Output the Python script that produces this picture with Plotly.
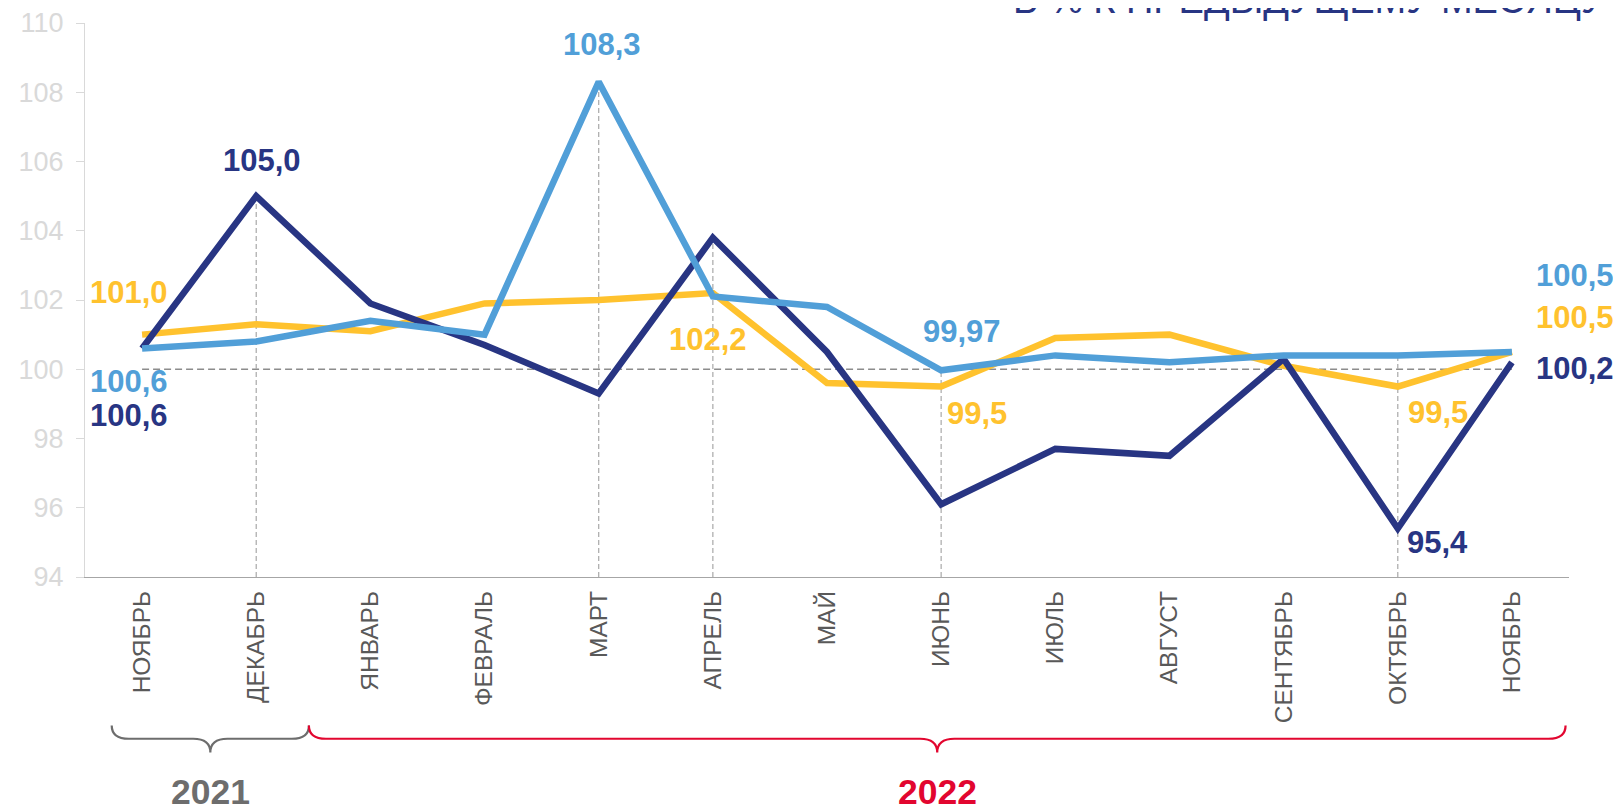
import plotly.graph_objects as go

# ---------------- data ----------------
months = ["НОЯБРЬ", "ДЕКАБРЬ", "ЯНВАРЬ", "ФЕВРАЛЬ", "МАРТ", "АПРЕЛЬ", "МАЙ",
          "ИЮНЬ", "ИЮЛЬ", "АВГУСТ", "СЕНТЯБРЬ", "ОКТЯБРЬ", "НОЯБРЬ"]
navy_vals = [100.6, 105.0, 101.9, 100.7, 99.3, 103.8, 100.5, 96.1, 97.7, 97.5, 100.3, 95.4, 100.2]
yellow_vals = [101.0, 101.3, 101.1, 101.9, 102.0, 102.2, 99.6, 99.5, 100.9, 101.0, 100.1, 99.5, 100.5]
blue_vals = [100.6, 100.8, 101.4, 101.0, 108.3, 102.1, 101.8, 99.97, 100.4, 100.2, 100.4, 100.4, 100.5]
years = ["2021", "2022"]
year_first_idx = [0, 2]
year_last_idx = [1, 12]
y_ticks = [94, 96, 98, 100, 102, 104, 106, 108, 110]
base_value = 100
guide_idx = [1, 4, 5, 7, 11]
title_text = "В % К ПРЕДЫДУЩЕМУ МЕСЯЦУ"

# ---------------- style ----------------
NAVY = "#283583"
YELLOW = "#FFC22E"
BLUE = "#519FD8"
GRAY_TXT = "#595959"
YEAR_COLORS = ["#6D6D6D", "#E2062F"]
FONT = "Liberation Sans, Arial, sans-serif"

series = {"navy": (navy_vals, NAVY), "yellow": (yellow_vals, YELLOW), "blue": (blue_vals, BLUE)}

x = list(range(len(months)))

fig = go.Figure()
for key in ["yellow", "navy", "blue"]:
    vals, col = series[key]
    fig.add_trace(go.Scatter(x=x, y=vals, mode="lines",
                             line=dict(color=col, width=6.5),
                             showlegend=False, hoverinfo="skip"))

# horizontal reference at 100
fig.add_shape(type="line", xref="x", yref="y", x0=x[0], x1=x[-1], y0=base_value, y1=base_value,
              line=dict(color="#8C8C8C", width=1.5, dash="7px,4px"), layer="below")

# vertical guides
for i in guide_idx:
    top = max(navy_vals[i], yellow_vals[i], blue_vals[i])
    fig.add_shape(type="line", xref="x", yref="y", x0=i, x1=i, y0=y_ticks[0], y1=top,
                  line=dict(color="#AFAFAF", width=1.3, dash="5px,3px"), layer="below")


def fmt(v):
    if abs(v * 10 - round(v * 10)) < 1e-9:
        s = f"{v:.1f}"
    else:
        s = f"{v:.2f}"
    return s.replace(".", ",")


label_specs = [
    ("navy", 0, -13, -67),
    ("blue", 0, -13, -33),
    ("yellow", 0, -13, 42),
    ("navy", 1, 6, 36),
    ("blue", 4, 3, 37),
    ("yellow", 5, -5, -46),
    ("blue", 7, 21, 39),
    ("yellow", 7, 36, -27),
    ("yellow", 11, 40, -26),
    ("navy", 11, 40, -14),
    ("blue", 12, 63, 76),
    ("yellow", 12, 63, 34),
    ("navy", 12, 63, -6),
]
for key, i, dx, dy in label_specs:
    vals, col = series[key]
    fig.add_annotation(x=i, y=vals[i], xref="x", yref="y", text=fmt(vals[i]),
                       showarrow=False, xanchor="center", yanchor="middle",
                       xshift=dx, yshift=dy,
                       font=dict(family=FONT, size=31, color=col, weight="bold"))

# year braces + labels
brace_y_top, brace_y_mid, brace_y_bot = -0.268, -0.292, -0.317
brace_pads = [(0.234, -0.038), (-0.039, -0.03)]
for k, yr in enumerate(years):
    xl = year_first_idx[k] - 0.5 + brace_pads[k][0]
    xr = year_last_idx[k] + 0.5 + brace_pads[k][1]
    xc = (xl + xr) / 2
    r = 0.15
    rc = 0.15
    path = (f"M {xl},{brace_y_top} Q {xl},{brace_y_mid} {xl + r},{brace_y_mid} "
            f"L {xc - rc},{brace_y_mid} Q {xc},{brace_y_mid} {xc},{brace_y_bot} "
            f"Q {xc},{brace_y_mid} {xc + rc},{brace_y_mid} "
            f"L {xr - r},{brace_y_mid} Q {xr},{brace_y_mid} {xr},{brace_y_top}")
    fig.add_shape(type="path", xref="x", yref="paper", path=path,
                  line=dict(color=YEAR_COLORS[k], width=2.2))
    fig.add_annotation(x=xc, y=-0.388, xref="x", yref="paper", text=f"<b>{yr}</b>",
                       showarrow=False, xanchor="center", yanchor="middle",
                       font=dict(family=FONT, size=35.5, color=YEAR_COLORS[k]))

# title (cut off at the top like the original)
fig.add_annotation(x=1.0263, y=1.0, xref="paper", yref="paper", text=title_text,
                   showarrow=False, xanchor="right", yanchor="bottom",
                   font=dict(family=FONT, size=38, color=NAVY))

fig.update_xaxes(range=[-0.5, len(months) - 0.5], tickvals=x, ticktext=months,
                 tickangle=-90, ticks="", showgrid=False, zeroline=False,
                 showline=True, linecolor="#A6A6A6", linewidth=1.3,
                 ticklabelstandoff=3, automargin=False,
                 tickfont=dict(family=FONT, size=24.5, color=GRAY_TXT))
fig.update_yaxes(range=[y_ticks[0], y_ticks[-1]], tickvals=y_ticks,
                 ticks="outside", ticklen=8, tickcolor="#D9D9D9", tickwidth=1,
                 showgrid=False, zeroline=False, showline=True,
                 linecolor="#D9D9D9", linewidth=1,
                 ticklabelstandoff=7, automargin=False,
                 tickfont=dict(family=FONT, size=27, color="#D9D9D9"))

# the page body adds an 8px offset; compensate so the plot area lands where the original's does
fig.update_layout(width=1613, height=803, margin=dict(l=77, r=52, t=15, b=234, autoexpand=False),
                  paper_bgcolor="white", plot_bgcolor="white", showlegend=False)

fig.write_html("out.html")
